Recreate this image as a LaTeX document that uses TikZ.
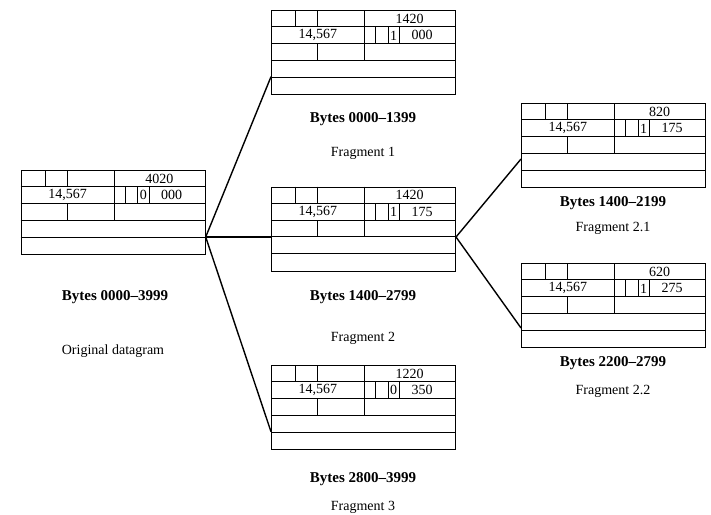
\documentclass[tikz,border=0pt]{standalone}
\usepackage{fontspec}
\setmainfont{Liberation Serif}
\usetikzlibrary{calc}
\tikzset{
  x=1pt, y=-1pt,
  pkt/.style={draw, line width=1pt, minimum width=184pt, minimum height=84pt, inner sep=0pt, anchor=north west},
  cell/.style={line width=0.9pt},
  conn/.style={line width=1.4pt},
  fld/.style={font=\fontsize{14}{15}\selectfont, inner sep=0pt},
  lbl/.style={font=\fontsize{14}{16}\selectfont, anchor=base, inner sep=0pt},
  blbl/.style={font=\bfseries\fontsize{15}{17}\selectfont, anchor=base, inner sep=0pt}
}
% name, x, y, length, flag, offset
\newcommand\packetbox[6]{%
  \node[pkt] (#1) at (#2,#3) {};
  \begin{scope}[shift={(#2,#3)}]
    \draw[cell] (0,16.8) -- (184,16.8) (0,33.6) -- (184,33.6)
                (0,50.4) -- (184,50.4) (0,67.2) -- (184,67.2);
    \draw[cell] (24.3,0) -- (24.3,16.8) (46.3,0) -- (46.3,16.8)
                (46.3,33.6) -- (46.3,50.4) (93.3,0) -- (93.3,50.4)
                (104.3,16.8) -- (104.3,33.6) (117,16.8) -- (117,33.6)
                (128.3,16.8) -- (128.3,33.6);
    \node[fld] (#1-len) at (138.6,8.6) {#4};
    \node[fld] (#1-id) at (46.8,25.4) {14,567};
    \node[fld] (#1-flag) at (122.6,25.4) {#5};
    \node[fld] (#1-off) at (151,25.4) {#6};
  \end{scope}}
\begin{document}
\begin{tikzpicture}
\useasboundingbox (0,0) rectangle (711,514);

\packetbox{O}{20.7}{170}{4020}{0}{000}
\packetbox{Fa}{271}{10}{1420}{1}{000}
\packetbox{Fb}{271}{186.5}{1420}{1}{175}
\packetbox{Fc}{271}{365}{1220}{0}{350}
\packetbox{Fba}{521}{103}{820}{1}{175}
\packetbox{Fbb}{521}{263}{620}{1}{275}

% labels
\node[blbl] (Ob) at (115,300) {Bytes 0000--3999};
\node[lbl]  (Ot) at (113,354) {Original datagram};
\node[blbl] (Fab) at (363,122) {Bytes 0000--1399};
\node[lbl]  (Fat) at (363,156) {Fragment 1};
\node[blbl] (Fbb-l) at (363,300) {Bytes 1400--2799};
\node[lbl]  (Fbt) at (363,341) {Fragment 2};
\node[blbl] (Fcb) at (363,482) {Bytes 2800--3999};
\node[lbl]  (Fct) at (363,510) {Fragment 3};
\node[blbl] (Fbab) at (613,206) {Bytes 1400--2199};
\node[lbl]  (Fbat) at (613,231) {Fragment 2.1};
\node[blbl] (Fbbb) at (613,366) {Bytes 2200--2799};
\node[lbl]  (Fbbt) at (613,394) {Fragment 2.2};

% connectors
\coordinate (hub) at ($(O.north east)+(0,67)$);
\coordinate (hubb) at (Fb.east |- hub);
\draw[conn] (hub) -- ($(Fa.north west)+(0,66.7)$);
\draw[conn] (hub) -- (hub -| Fb.west);
\draw[conn] (hub) -- ($(Fc.north west)+(0,66.7)$);
\draw[conn] (hubb) -- ($(Fba.north west)+(0,56)$);
\draw[conn] (hubb) -- ($(Fbb.north west)+(0,65)$);
\end{tikzpicture}
\end{document}
